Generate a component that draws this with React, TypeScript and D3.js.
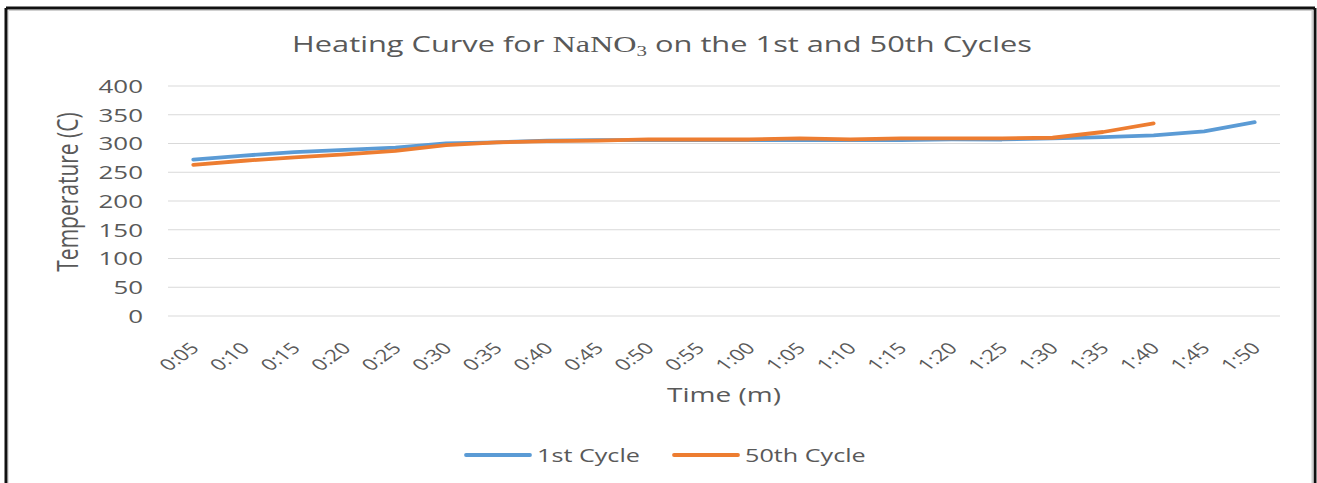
import React from "react";
import * as d3 from "d3";

const times = ["0:05","0:10","0:15","0:20","0:25","0:30","0:35","0:40","0:45","0:50","0:55","1:00","1:05","1:10","1:15","1:20","1:25","1:30","1:35","1:40","1:45","1:50"];
const cycle1 = [272, 279, 285, 289, 293, 300, 302, 305, 306, 306, 306, 306, 306, 306, 306, 307, 307, 309, 311, 314, 321, 337];
const cycle50 = [263, 270, 276, 281, 287, 297, 302, 304, 305, 307, 307, 307, 309, 307, 309, 309, 309, 310, 320, 335];
const yTicks = [0, 50, 100, 150, 200, 250, 300, 350, 400];
const seriesNames = ["1st Cycle", "50th Cycle"];
const colors = ["#5B9BD5", "#ED7D31"];

const W = 1317, H = 483;
const SX = 1.4;
const FONT = "'Open Sans', 'Noto Sans', sans-serif";
const SERIF = "'Liberation Serif', 'DejaVu Serif', serif";
const TXT = "#595959";

function ST({ x, y, rot = 0, anchor = "start", size = 17, baseline = "auto", children, fill = TXT }: any) {
  return (
    <text
      transform={`translate(${x},${y}) scale(${SX},1) rotate(${rot})`}
      textAnchor={anchor}
      dominantBaseline={baseline}
      fontSize={size}
      fontFamily={FONT}
      fill={fill}
    >
      {children}
    </text>
  );
}

export default function App() {
  const x = d3.scalePoint<string>().domain(times).range([168, 1280]).padding(0.5);
  const y = d3.scaleLinear().domain([0, 400]).range([316, 86]);
  const line = d3.line<number>().x((_, i) => x(times[i])!).y((d) => y(d));
  const series = [cycle1, cycle50];

  return (
    <svg width={W} height={H} style={{ position: "absolute", left: 0, top: 0, background: "#fff" }}>
      {/* frame */}
      <line x1={6} y1={8} x2={1315} y2={8} stroke="#111" strokeWidth={3} />
      <line x1={6} y1={8} x2={6} y2={H} stroke="#111" strokeWidth={3} />
      <line x1={1315} y1={8} x2={1315} y2={H} stroke="#111" strokeWidth={3} />
      <line x1={8} y1={10.5} x2={1313} y2={10.5} stroke="#d0d0d0" strokeWidth={1} />
      <line x1={8.5} y1={10} x2={8.5} y2={H} stroke="#e0e0e0" strokeWidth={1} />
      <line x1={1312.5} y1={10} x2={1312.5} y2={H} stroke="#d0d0d0" strokeWidth={2} />

      {/* title */}
      <text
        transform={`translate(662,52) scale(${SX},1)`}
        textAnchor="middle"
        fontSize={22}
        fontFamily={FONT}
        fill={TXT}
      >
        Heating Curve for{" "}
        <tspan style={{ fontFamily: SERIF }} fontSize={23}>NaNO</tspan>
        <tspan style={{ fontFamily: SERIF }} fontSize={15} dy={4}>3</tspan>
        <tspan dy={-4}> on the 1st and 50th Cycles</tspan>
      </text>

      {/* gridlines */}
      {yTicks.map((t) => (
        <line key={t} x1={168} x2={1280} y1={y(t)} y2={y(t)} stroke="#d9d9d9" strokeWidth={1} />
      ))}

      {/* y tick labels */}
      {yTicks.map((t) => (
        <ST key={t} x={143} y={y(t)} anchor="end" baseline="central" size={18.5}>{t}</ST>
      ))}

      {/* y axis title */}
      <ST x={78} y={192} rot={-90} anchor="middle" size={21}>Temperature (C)</ST>

      {/* x tick labels */}
      {times.map((t) => (
        <ST key={t} x={x(t)! + 1} y={345} rot={-45} anchor="end" baseline="central" size={16}>{t}</ST>
      ))}

      {/* x axis title */}
      <ST x={724} y={402} anchor="middle" size={20}>Time (m)</ST>

      {/* lines */}
      {series.map((s, i) => (
        <path key={i} d={line(s)!} fill="none" stroke={colors[i]} strokeWidth={3.8} strokeLinecap="round" strokeLinejoin="round" />
      ))}

      {/* legend */}
      {[466, 674].map((lx, i) => (
        <g key={i}>
          <line x1={lx} x2={lx + 64} y1={455} y2={455} stroke={colors[i]} strokeWidth={3.8} strokeLinecap="round" />
          <ST x={lx + 71} y={455} baseline="central" size={18}>{seriesNames[i]}</ST>
        </g>
      ))}
    </svg>
  );
}
